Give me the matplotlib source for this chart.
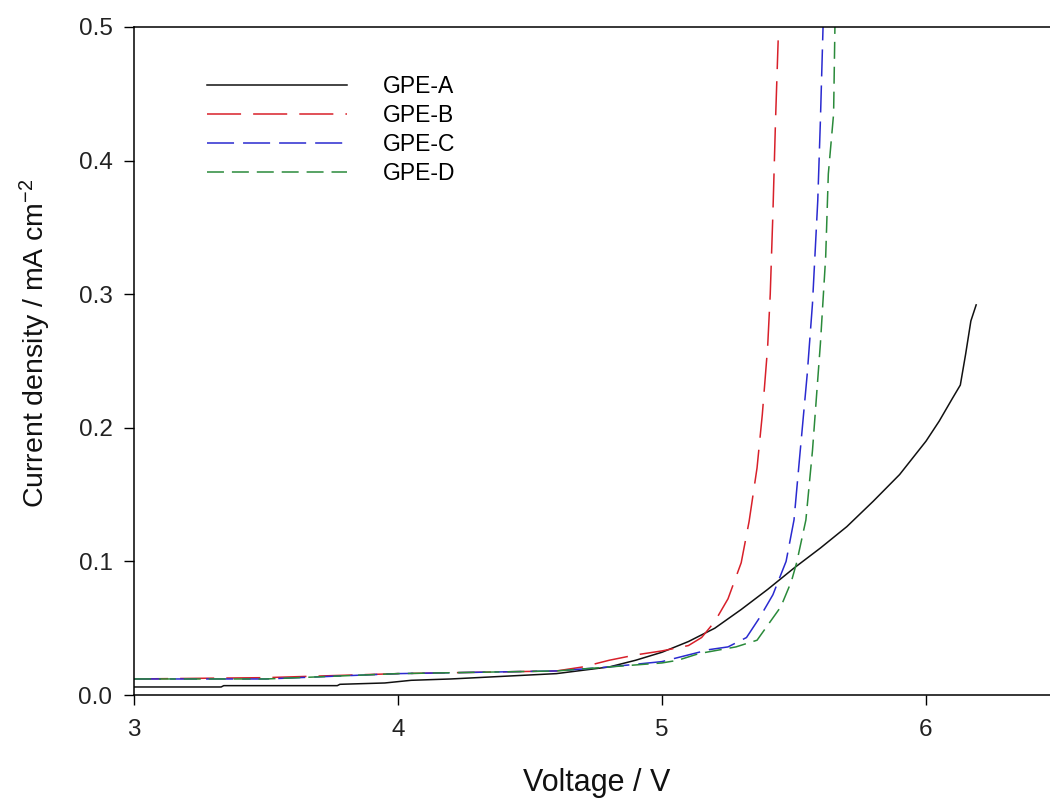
import matplotlib
matplotlib.use("Agg")
import matplotlib.pyplot as plt

plt.rcParams['font.family'] = ['Liberation Sans', 'DejaVu Sans']
plt.rcParams['mathtext.default'] = 'regular'

# LSV data
v_a = [3.0, 3.33, 3.34, 3.77, 3.78, 3.95, 4.05, 4.2, 4.4, 4.6, 4.8, 4.9, 5.0, 5.1,
       5.2, 5.3, 5.4, 5.5, 5.6, 5.7, 5.8, 5.9, 6.0, 6.05, 6.1, 6.13, 6.15, 6.17, 6.19]
j_a = [0.006, 0.006, 0.007, 0.007, 0.008, 0.009, 0.011, 0.012, 0.014, 0.016, 0.021,
       0.026, 0.032, 0.040, 0.050, 0.064, 0.079, 0.095, 0.110, 0.126, 0.145, 0.165,
       0.190, 0.205, 0.222, 0.232, 0.255, 0.280, 0.292]

v_b = [3.0, 3.5, 4.0, 4.3, 4.6, 4.7, 4.8, 4.9, 5.0, 5.1, 5.15, 5.2, 5.25, 5.3, 5.33,
       5.36, 5.38, 5.40, 5.41, 5.42, 5.43, 5.44]
j_b = [0.012, 0.013, 0.016, 0.017, 0.018, 0.021, 0.026, 0.030, 0.033, 0.037, 0.043,
       0.055, 0.072, 0.099, 0.13, 0.17, 0.21, 0.26, 0.30, 0.36, 0.43, 0.49]

v_c = [3.0, 3.5, 4.0, 4.3, 4.6, 4.8, 5.0, 5.1, 5.18, 5.25, 5.32, 5.37, 5.42, 5.47,
       5.50, 5.52, 5.55, 5.57, 5.59, 5.60, 5.61]
j_c = [0.012, 0.012, 0.016, 0.017, 0.018, 0.021, 0.025, 0.030, 0.034, 0.036, 0.043,
       0.058, 0.075, 0.10, 0.131, 0.175, 0.24, 0.293, 0.37, 0.43, 0.50]

v_d = [3.0, 3.5, 4.0, 4.3, 4.6, 4.8, 5.0, 5.06, 5.14, 5.28, 5.36, 5.45, 5.49, 5.51,
       5.545, 5.57, 5.60, 5.62, 5.63, 5.65, 5.655]
j_d = [0.012, 0.012, 0.016, 0.017, 0.018, 0.021, 0.024, 0.026, 0.031, 0.036, 0.041,
       0.066, 0.085, 0.099, 0.131, 0.183, 0.263, 0.328, 0.39, 0.435, 0.50]

labels = ['GPE-A', 'GPE-B', 'GPE-C', 'GPE-D']
xticks = [3, 4, 5, 6]
yticks = [0.0, 0.1, 0.2, 0.3, 0.4, 0.5]

fig = plt.figure(figsize=(10.5, 8.06), dpi=100)
ax = fig.add_axes([134/1050, 111/806, 924/1050, 668/806])

lw = 1.1
ax.plot(v_a, j_a, color='#111111', lw=lw, label=labels[0])
ax.plot(v_b, j_b, color='#d8202a', lw=lw, dashes=(22.3, 7.9), label=labels[1])
ax.plot(v_c, j_c, color='#2a2ad0', lw=lw, dashes=(17.7, 5.9), label=labels[2])
ax.plot(v_d, j_d, color='#2a8a3a', lw=lw, dashes=(11.1, 5.2), label=labels[3])

ax.set_xlim(3, 6.5)
ax.set_ylim(0, 0.5)
ax.set_xticks(xticks)
ax.set_yticks(yticks)
ax.set_yticklabels(['%.1f' % t for t in yticks])
ax.tick_params(direction='out', length=7.5, width=1, labelsize=17.5,
               labelcolor='#222222', top=False, right=False)
ax.tick_params(axis='y', pad=8)
ax.tick_params(axis='x', pad=10)
for s in ax.spines.values():
    s.set_linewidth(1.1)

fig.text(597/1050, 1 - 783/806, 'Voltage / V', ha='center', va='center',
         fontsize=22, color='#111111')
fig.text(35/1050, 1 - 343/806, r'Current density / mA cm$^{-2}$', ha='center',
         va='center', rotation=90, fontsize=20.5, color='#111111')

ax.legend(loc='upper left', bbox_to_anchor=(207/1050, 1 - 75/806),
          bbox_transform=fig.transFigure, frameon=False, fontsize=16.5,
          handlelength=6.1, handletextpad=1.57, labelspacing=0.26,
          borderpad=0, borderaxespad=0)

fig.savefig('out.png', dpi=100)
